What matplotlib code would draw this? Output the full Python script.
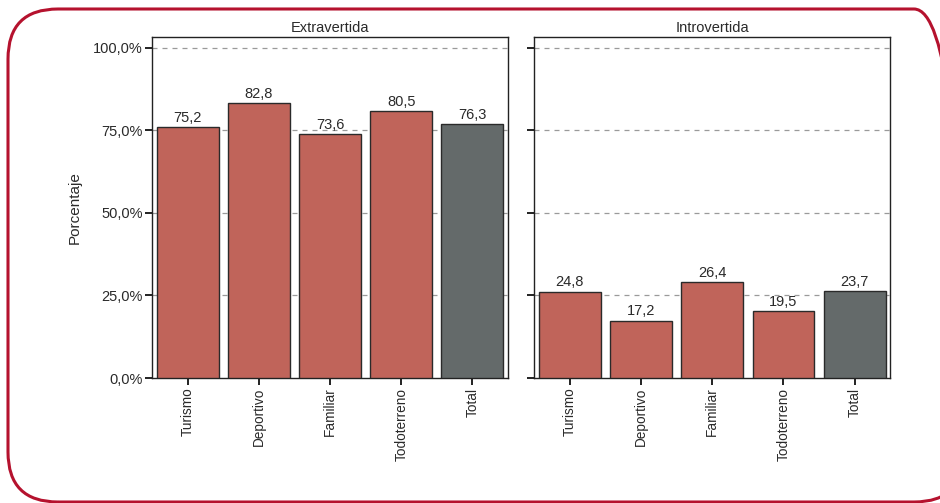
import matplotlib.pyplot as plt
import matplotlib.transforms as mtransforms
from matplotlib.patches import FancyBboxPatch

plt.rcParams['font.family'] = ['Liberation Sans', 'DejaVu Sans']

# Datos
categorias = ['Turismo', 'Deportivo', 'Familiar', 'Todoterreno', 'Total']
paneles = ['Extravertida', 'Introvertida']
# alturas de las barras tal como aparecen dibujadas
alturas_extra = [76.1, 83.4, 74.0, 81.0, 76.9]
alturas_intro = [26.2, 17.4, 29.0, 20.2, 26.4]
# etiquetas impresas sobre las barras
etiquetas_extra = ['75,2', '82,8', '73,6', '80,5', '76,3']
etiquetas_intro = ['24,8', '17,2', '26,4', '19,5', '23,7']
yticks = [0, 25, 50, 75, 100]
ytick_labels = ['0,0%', '25,0%', '50,0%', '75,0%', '100,0%']

rojo = '#c0645a'
gris = '#646a6a'
colores = [rojo, rojo, rojo, rojo, gris]
texto = '#2a2a2a'

fig = plt.figure(figsize=(9.4, 5.03), dpi=100)

# marco redondeado (coordenadas en pixeles, origen abajo)
borde = FancyBboxPatch((8, 1), 956, 493, boxstyle='round,pad=0,rounding_size=50',
                       transform=mtransforms.IdentityTransform(),
                       facecolor='none', edgecolor='#b5122e', linewidth=2.2,
                       clip_on=False)
fig.patches.append(borde)

ax1 = fig.add_axes([0.162, 0.2485, 0.3784, 0.6773])
ax2 = fig.add_axes([0.5684, 0.2485, 0.3787, 0.6773])

datos = [(ax1, alturas_extra, etiquetas_extra), (ax2, alturas_intro, etiquetas_intro)]
for i, (ax, alturas, etiquetas) in enumerate(datos):
    x = range(len(categorias))
    barras = ax.bar(x, alturas, width=0.87, color=colores, edgecolor='#2a2a2a',
                    linewidth=1.0, zorder=3)
    for b, et in zip(barras, etiquetas):
        ax.annotate(et, (b.get_x() + b.get_width() / 2, b.get_height()),
                    xytext=(0, 1.5), textcoords='offset points',
                    ha='center', va='bottom', fontsize=10.5, color=texto,
                    zorder=4)
    ax.set_xlim(-0.5, 4.5)
    ax.set_ylim(0, 103.2)
    ax.set_yticks(yticks)
    ax.set_xticks(list(x))
    ax.set_xticklabels(categorias, rotation=90, fontsize=9.8, color=texto)
    for yv in yticks[1:]:
        ax.axhline(yv, color='#9a9a9a', linestyle=(0, (4, 4)), linewidth=0.9, zorder=1)
    ax.tick_params(axis='both', length=5, width=1.4, color='#222222', pad=2)
    for s in ax.spines.values():
        s.set_color('#222222')
        s.set_linewidth(1.0)
    ax.set_title(paneles[i], fontsize=10.5, color=texto, pad=4)
    if i == 0:
        ax.set_yticklabels(ytick_labels, fontsize=10.5, color=texto)
        ax.set_ylabel('Porcentaje', fontsize=11, color=texto, labelpad=8)
    else:
        ax.set_yticklabels([])

fig.savefig('out.png', dpi=100)
